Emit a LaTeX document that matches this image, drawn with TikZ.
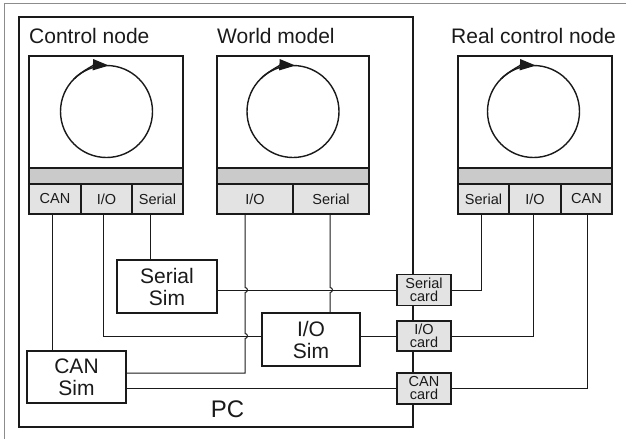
\documentclass[tikz,border=0pt]{standalone}
\usepackage{fontspec}
\setmainfont{Liberation Sans}
\usetikzlibrary{arrows.meta,calc,backgrounds}
\definecolor{ink}{HTML}{1A1A1A}
\definecolor{bandgray}{HTML}{CACACA}
\definecolor{portgray}{HTML}{E3E3E3}
\definecolor{framegray}{HTML}{8C8C8C}

\begin{document}
\begin{tikzpicture}[x=1pt,y=-1pt,
  text=ink,
  wire/.style={draw=ink, line width=1pt},
  unitbox/.style={draw=ink, line width=1.5pt, fill=white, inner sep=0pt},
  bandbox/.style={draw=ink, line width=1.5pt, fill=bandgray, inner sep=0pt, minimum height=16pt},
  portbox/.style={draw=ink, line width=1.5pt, fill=portgray, inner sep=0pt, minimum height=30pt,
    font=\fontsize{14.5}{14}\selectfont},
  loopnode/.style={draw=ink, line width=1.4pt, circle, minimum size=92pt, inner sep=0pt},
  looparrow/.style={draw=ink, fill=ink, line width=1.4pt, -{Triangle[length=16pt,width=11pt]}},
  title/.style={anchor=base west, inner sep=0pt, font=\fontsize{21}{21}\selectfont},
  simbox/.style={draw=ink, line width=1.6pt, fill=white, inner sep=0pt, align=center,
    font=\fontsize{21}{22}\selectfont},
  cardbox/.style={draw=ink, line width=1.8pt, fill=portgray, inner sep=0pt, align=center,
    minimum width=54pt, font=\fontsize{14.5}{13}\selectfont}]

\useasboundingbox (0,0) rectangle (626,439);

% outer frame
\draw[framegray, line width=1pt] (4,439) -- (4,3) -- (626,3);

% PC enclosure
\node[draw=ink, line width=2.6pt, minimum width=394pt, minimum height=410pt, inner sep=0pt]
  (pc) at (216,222) {};
\node[font=\fontsize{24}{24}\selectfont] (pclabel) at (227.5,409) {PC};

% ---------- Control node ----------
\node[title] (cntitle) at (29,43) {Control node};
\node[unitbox, minimum width=154pt, minimum height=112pt] (cn) at (106,112) {};
\node[bandbox, minimum width=154pt] (cnband) at (106,176) {};
\node[portbox, minimum width=52pt] (cncan) at (55,199) {CAN};
\node[portbox, minimum width=51pt] (cnio) at (106.5,199) {I/O};
\node[portbox, minimum width=51pt] (cnser) at (157.5,199) {Serial};
\node[loopnode] (cnloop) at (106.5,111.5) {};
\draw[looparrow, fill=none] ($(cnloop.center)+(225:46)$) arc[start angle=225, end angle=273, radius=46];

% ---------- World model ----------
\node[title] (wmtitle) at (217,43) {World model};
\node[unitbox, minimum width=152pt, minimum height=112pt] (wm) at (293,112) {};
\node[bandbox, minimum width=152pt] (wmband) at (293,176) {};
\node[portbox, minimum width=76pt] (wmio) at (255,199) {I/O};
\node[portbox, minimum width=76pt] (wmser) at (331,199) {Serial};
\node[loopnode] (wmloop) at (293,111.5) {};
\draw[looparrow, fill=none] ($(wmloop.center)+(225:46)$) arc[start angle=225, end angle=273, radius=46];

% ---------- Real control node ----------
\node[title] (rctitle) at (451,43) {Real control node};
\node[unitbox, minimum width=154pt, minimum height=112pt] (rc) at (535,112) {};
\node[bandbox, minimum width=154pt] (rcband) at (535,176) {};
\node[portbox, minimum width=51pt] (rcser) at (483.5,199) {Serial};
\node[portbox, minimum width=52pt] (rcio) at (535,199) {I/O};
\node[portbox, minimum width=51pt] (rccan) at (586.5,199) {CAN};
\node[loopnode] (rcloop) at (533.5,111.5) {};
\draw[looparrow, fill=none] ($(rcloop.center)+(225:46)$) arc[start angle=225, end angle=273, radius=46];

% ---------- simulators and interface cards ----------
\node[simbox, minimum width=100pt, minimum height=53pt] (sersim) at (167,286.5) {Serial\\Sim};
\node[simbox, minimum width=98pt, minimum height=53pt] (iosim) at (311,339.5) {I/O\\Sim};
\node[simbox, minimum width=99pt, minimum height=52pt] (cansim) at (76.5,377) {CAN\\Sim};

\node[cardbox, minimum height=31pt] (sercard) at (424,290) {Serial\\card};
\node[cardbox, minimum height=30pt] (iocard) at (424,336) {I/O\\card};
\node[cardbox, minimum height=31pt] (cancard) at (424,388.5) {CAN\\card};

% tap points under the ports and line junctions
\coordinate (cncanTap) at ([xshift=-3pt]cncan.south);
\coordinate (cnioTap) at ([xshift=-3.5pt]cnio.south);
\coordinate (cnserTap) at ([xshift=-7.5pt]cnser.south);
\coordinate (wmioTap) at ([xshift=-10pt]wmio.south);
\coordinate (wmserTap) at ([xshift=-1pt]wmser.south);
\coordinate (rcserTap) at ([xshift=-2.5pt]rcser.south);
\coordinate (rcioTap) at ([xshift=-2pt]rcio.south);
\coordinate (rccanTap) at ([xshift=0.5pt]rccan.south);
\coordinate (iosimIn) at ([yshift=3.5pt]iosim.west);
\coordinate (cansimOut) at ([yshift=4pt]cansim.east);

% ---------- connections (behind the boxes) ----------
\begin{scope}[on background layer]
\draw[wire] (cncanTap) -- (cncanTap |- cansim.north);
\draw[wire] (cnserTap) -- (cnserTap |- sersim.north);
\draw[wire] (cnioTap) |- (iosimIn);
% world model I/O hops over the two horizontal lines
\draw[wire] (wmioTap) -- ($(wmioTap |- sercard.west)+(0,-2.5)$)
  arc[start angle=-90, end angle=90, radius=2.5]
  -- ($(wmioTap |- iocard.west)+(0,-2.5)$)
  arc[start angle=-90, end angle=90, radius=2.5]
  -- (wmioTap |- cansimOut) -- (cansimOut);
\draw[wire] (wmserTap) -- ($(wmserTap |- sercard.west)+(0,-2.5)$)
  arc[start angle=-90, end angle=90, radius=2.5]
  -- (wmserTap |- iosim.north);
\draw[wire] (sersim.east |- sercard.west) -- (sercard.west);
\draw[wire] (iosim.east |- iocard.west) -- (iocard.west);
\draw[wire] (cansim.east |- cancard.west) -- (cancard.west);
\draw[wire] (sercard.east) -| (rcserTap);
\draw[wire] (iocard.east) -| (rcioTap);
\draw[wire] (cancard.east) -| (rccanTap);
\end{scope}
\end{tikzpicture}
\end{document}
